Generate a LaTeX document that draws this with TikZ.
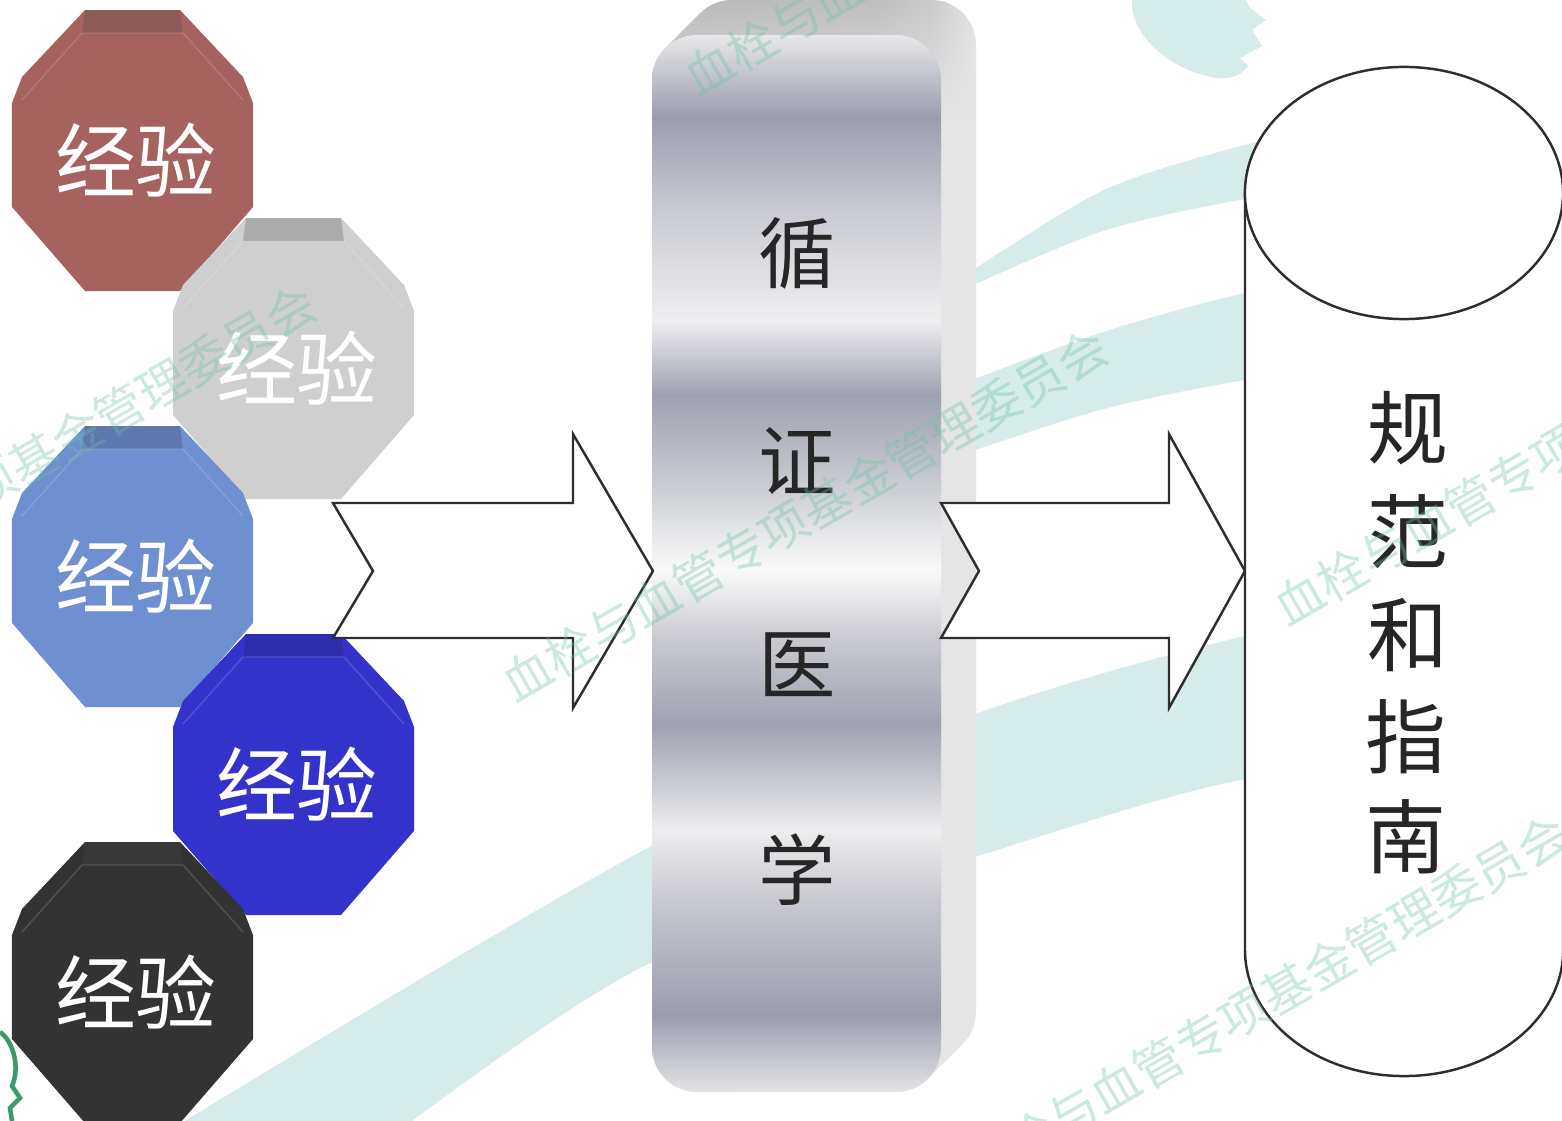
\documentclass[tikz,border=0pt]{standalone}
\usepackage{fontspec}
\newfontfamily\cjk{Noto Sans CJK SC}
\usetikzlibrary{calc,fadings}
\definecolor{oRed}{HTML}{A5625F}\definecolor{oRedT}{HTML}{8C5A59}
\definecolor{oGrey}{HTML}{CFCFCF}\definecolor{oGreyT}{HTML}{ABABAB}
\definecolor{oLBlue}{HTML}{6F90D0}\definecolor{oLBlueT}{HTML}{5F78B0}
\definecolor{oBlue}{HTML}{3333CC}\definecolor{oBlueT}{HTML}{2D2DAE}
\definecolor{oDark}{HTML}{333333}\definecolor{oDarkT}{HTML}{383838}
\definecolor{swoosh}{HTML}{D6ECEA}
\definecolor{wmark}{HTML}{6CC29E}
\definecolor{lineC}{HTML}{2E2E2E}
\definecolor{backC}{HTML}{E5E5E5}
\definecolor{backT}{HTML}{B9B9B9}
\definecolor{logoG}{HTML}{3A9A6A}
\definecolor{mA}{HTML}{E4E4E6}\definecolor{mB}{HTML}{9A9DAD}
\definecolor{mC}{HTML}{C8C9D0}\definecolor{mD}{HTML}{EDEDEF}
\definecolor{mE}{HTML}{9EA1B0}\definecolor{mF}{HTML}{C8C9D0}
\definecolor{mG}{HTML}{FAFAFA}\definecolor{mH}{HTML}{C2C4CC}
\definecolor{mI}{HTML}{9EA1B0}\definecolor{mJ}{HTML}{EEEEF0}
\definecolor{mK}{HTML}{CDCED5}\definecolor{mL}{HTML}{9A9DAD}
\definecolor{mM}{HTML}{E8E8EA}
\pgfdeclareverticalshading{metal}{100bp}{color(0bp)=(mA); color(25bp)=(mA); color(28.64bp)=(mB); color(34.08bp)=(mC); color(37.39bp)=(mD); color(42.36bp)=(mE); color(46.38bp)=(mF); color(49.69bp)=(mG); color(54.42bp)=(mH); color(57.97bp)=(mI); color(61.52bp)=(mJ); color(66.25bp)=(mK); color(71.12bp)=(mL); color(75bp)=(mM); color(100bp)=(mM)}
\pgfdeclarehorizontalshading{topface}{100bp}{color(0bp)=(backT); color(25bp)=(backT); color(60bp)=(backT!92!white); color(68bp)=(backT!60!backC); color(75bp)=(backC); color(100bp)=(backC)}
\tikzfading[name=fadedown, top color=transparent!0, middle color=transparent!0, bottom color=transparent!100]
\tikzset{
  exptext/.style={font=\cjk\fontsize{23}{23}\selectfont, text=white, inner sep=0pt},
  coltext/.style={font=\cjk\fontsize{22}{22}\selectfont, text=black!85, inner sep=0pt},
  cyltext/.style={font=\cjk\fontsize{23}{23}\selectfont, text=black!85, inner sep=0pt},
  wm/.style={font=\cjk\fontsize{14}{14}\selectfont, text=wmark, opacity=0.35, rotate=30, inner sep=0pt},
  blockarrow/.style={draw=lineC, fill=white, line width=0.7pt, line join=miter},
  cylline/.style={draw=lineC, fill=white, line width=0.7pt},
}
\newcommand\expoct[6]{%
  \begin{scope}[shift={(#1,#2)}]
    \fill[#3] (73,0)--(168,0)--(231,67)--(241,93)--(241,197)--(168,281)--(73,281)--(0,197)--(0,93)--(10,67)--cycle;
    \fill[#4] (73,0)--(168,0)--(171,23)--(70,23)--cycle;
    \draw[white, opacity=0.15, line width=0.4pt] (10,90)--(70,23)--(171,23)--(231,90);
    \node[exptext] (#5) at (124,150) {#6};
  \end{scope}}
\begin{document}
\begin{tikzpicture}[x=0.01cm, y=-0.01cm]
\useasboundingbox (0,0) rectangle (1562,1121);
\clip (0,0) rectangle (1562,1121);
\fill[white] (0,0) rectangle (1562,1121);
% background swooshes
\fill[swoosh] plot[smooth] coordinates {(170,1130) (650,847) (975,714) (1245,636) (1570,575)}
  -- plot[smooth] coordinates {(1570,740) (1245,779) (975,857) (650,963) (400,1130)} -- cycle;
\fill[swoosh] plot[smooth] coordinates {(940,292) (1100,192) (1245,145) (1330,130)}
  -- plot[smooth] coordinates {(1330,190) (1245,199) (1100,232) (940,300)} -- cycle;
\fill[swoosh] plot[smooth] coordinates {(940,392) (1100,333) (1245,293) (1330,282)}
  -- plot[smooth] coordinates {(1330,372) (1245,380) (1100,410) (940,462)} -- cycle;
\fill[swoosh] (1132,0) .. controls (1130,30) and (1160,62) .. (1200,74) .. controls (1222,82) and (1240,78) .. (1248,66) -- (1240,58) -- (1262,46) -- (1252,30) -- (1266,20) -- (1250,8) -- (1246,0) -- cycle;
\draw[logoG, line width=1.3pt] (0,1032) .. controls (14,1042) and (20,1068) .. (12,1086) -- (20,1098) -- (10,1108) -- (12,1121);
% experience octagons
\expoct{12}{10}{oRed}{oRedT}{e1}{经验}
\expoct{173}{218}{oGrey}{oGreyT}{e2}{经验}
\expoct{12}{426}{oLBlue}{oLBlueT}{e3}{经验}
\expoct{173}{634}{oBlue}{oBlueT}{e4}{经验}
\expoct{12}{842}{oDark}{oDarkT}{e5}{经验}
% column: extruded back
\path[fill=backC] (652,1047) -- (652,80) arc[start angle=180,end angle=135,radius=0.45cm]
  -- (700.2,13.2) arc[start angle=135,end angle=90,radius=0.45cm] -- (931,0)
  arc[start angle=90,end angle=0,radius=0.45cm] -- (976,1012)
  arc[start angle=0,end angle=-45,radius=0.45cm] -- (927.8,1078.8)
  arc[start angle=-45,end angle=-90,radius=0.45cm] -- (697,1092)
  arc[start angle=-90,end angle=-180,radius=0.45cm] -- cycle;
\begin{scope}
  \clip (652,1047) -- (652,80) arc[start angle=180,end angle=135,radius=0.45cm]
  -- (700.2,13.2) arc[start angle=135,end angle=90,radius=0.45cm] -- (931,0)
  arc[start angle=90,end angle=0,radius=0.45cm] -- (976,130) -- (652,130) -- cycle;
  \path[shading=topface, path fading=fadedown] (652,0) rectangle (977,120);
\end{scope}
% column front
\path[shading=metal, rounded corners=0.45cm] (652,35) rectangle (941,1092);
\node[coltext] (c1) at (797,253) {循};
\node[coltext] (c2) at (797,461) {证};
\node[coltext] (c3) at (797,665) {医};
\node[coltext] (c4) at (797,870) {学};
% block arrows
\path[blockarrow] (333,503)--(573,503)--(573,434)--(653,571)--(573,708)--(573,638)--(333,638)--(373,571)--cycle;
\path[blockarrow] (941,503)--(1169,503)--(1169,434)--(1245,571)--(1169,708)--(1169,638)--(941,638)--(979,571)--cycle;
% cylinder
\path[cylline] (1245,193) -- (1245,950) arc[start angle=180,end angle=360,x radius=1.59cm,y radius=1.26cm] -- (1563,193);
\path[cylline] (1404,193) ellipse[x radius=1.59cm, y radius=1.26cm];
\node[cyltext] (g1) at (1408,428) {规};
\node[cyltext] (g2) at (1408,532) {范};
\node[cyltext] (g3) at (1408,635) {和};
\node[cyltext] (g4) at (1406,737) {指};
\node[cyltext] (g5) at (1406,837) {南};
% watermark
\node[wm] (w1) at (805,515) {血栓与血管专项基金管理委员会};
\node[wm] (w2) at (13,471) {血栓与血管专项基金管理委员会};
\node[wm] (w3) at (987,-91) {血栓与血管专项基金管理委员会};
\node[wm] (w4) at (1577,439) {血栓与血管专项基金管理委员会};
\node[wm] (w5) at (1265,1001) {血栓与血管专项基金管理委员会};
\end{tikzpicture}
\end{document}
